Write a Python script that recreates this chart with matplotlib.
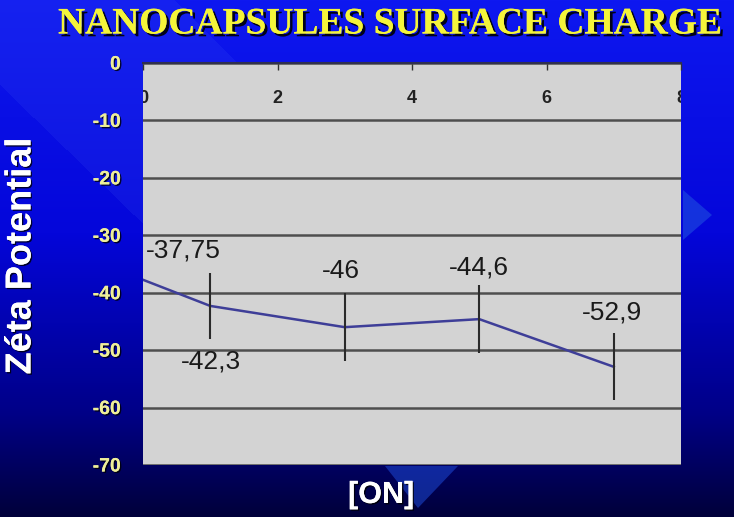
import numpy as np
import matplotlib
matplotlib.use("Agg")
import matplotlib.pyplot as plt
import matplotlib.patheffects as pe
from matplotlib.patches import Polygon

plt.rcParams["axes.unicode_minus"] = False

# data
conc = [0, 1, 3, 5, 7]
zeta = [-37.75, -42.3, -46, -44.6, -52.9]
zeta_err = [0, 5.7, 5.9, 5.9, 5.8]
point_labels = ["-37,75", "-42,3", "-46", "-44,6", "-52,9"]
label_offsets = [(40, 29), (1, -56), (-4, 56), (0, 52), (-2, 54)]  # pixels
x_ticks = [0, 2, 4, 6, 8]
y_ticks = [0, -10, -20, -30, -40, -50, -60, -70]

W, H = 734, 517
fig = plt.figure(figsize=(W / 100, H / 100), dpi=100)

# slide background: blue vertical gradient with a lighter diagonal band
bg = fig.add_axes([0, 0, 1, 1], zorder=-10)
yy, xx = np.mgrid[0:H, 0:W]
t = yy / (H - 1)
stops_t = [0.0, 0.45, 0.8, 1.0]
stops_c = np.array([[14, 24, 240], [4, 6, 218], [0, 0, 135], [0, 0, 58]]) / 255
img = np.zeros((H, W, 3))
for k in range(3):
    img[..., k] = np.interp(t, stops_t, stops_c[:, k])
band = (yy < 85 + 0.97 * xx) & (yy > xx - 175) & (yy < 250)
img[band] = img[band] * 0.85 + np.array([0.25, 0.35, 0.95]) * 0.15
bg.imshow(img, extent=[0, W, H, 0], aspect="auto")
bg.add_patch(Polygon([[683, 190], [712, 215], [683, 240]], closed=True,
                     color="#1f4fe0", alpha=0.6, lw=0))
bg.add_patch(Polygon([[385, 466], [458, 466], [418, 508]], closed=True,
                     color="#1f4fe0", alpha=0.5, lw=0))
bg.set_xlim(0, W)
bg.set_ylim(H, 0)
bg.axis("off")

ax = fig.add_axes([143 / W, 1 - 465 / H, 538 / W, 402 / H])
ax.set_facecolor("#d3d3d3")
ax.set_xlim(0, 8)
ax.set_ylim(-70, 0)

ax.plot(conc, zeta, color="#3e3e98", lw=1.8, zorder=3)
ax.errorbar(conc[1:], zeta[1:], yerr=zeta_err[1:], fmt="none",
            ecolor="#2a2a2a", elinewidth=1.5, capsize=0, zorder=4)

for xv, yv, lab, off in zip(conc, zeta, point_labels, label_offsets):
    ax.annotate(lab, (xv, yv), xytext=off, textcoords="offset pixels",
                ha="center", va="center", fontsize=19, color="#1a1a1a",
                family="Liberation Sans", zorder=5)

ax.set_yticks(y_ticks)
ax.set_xticks(x_ticks)
ax.grid(axis="y", color="#4e4e4e", lw=1.8)
ax.set_axisbelow(True)
for side in ["left", "right", "bottom"]:
    ax.spines[side].set_visible(False)
ax.spines["top"].set_color("#303050")
ax.spines["top"].set_linewidth(1.5)

ax.xaxis.set_ticks_position("top")
ax.xaxis.set_label_position("bottom")
ax.tick_params(axis="x", direction="in", length=5, width=1, color="#333333",
               pad=-32, labelsize=13, labelcolor="#222222")
for lab in ax.get_xticklabels():
    lab.set_fontweight("bold")
    lab.set_family("Liberation Sans")
    lab.set_clip_box(ax.bbox)
    lab.set_clip_on(True)

ax.tick_params(axis="y", length=0, pad=16, labelsize=14, labelcolor="#eeee99")
shadow = [pe.withSimplePatchShadow(offset=(1, -1), shadow_rgbFace="black", alpha=0.8), pe.Normal()]
for lab in ax.get_yticklabels():
    lab.set_fontweight("bold")
    lab.set_family(["Liberation Sans Narrow", "Liberation Sans"])
    lab.set_path_effects(shadow)

fig.text(390 / W, 1 - 24 / H, "NANOCAPSULES SURFACE CHARGE", ha="center", va="center",
         fontsize=27, fontweight="bold", family="Liberation Serif", color="#f4f43a",
         path_effects=[pe.withSimplePatchShadow(offset=(2, -2), shadow_rgbFace="black", alpha=0.9),
                       pe.Normal()])
fig.text(21 / W, 1 - 256 / H, "Zéta Potential", rotation=90, ha="center", va="center",
         fontsize=26, fontweight="bold", family="Liberation Sans", color="white",
         path_effects=shadow)
fig.text(381 / W, 1 - 495 / H, "[ON]", ha="center", va="center",
         fontsize=22, fontweight="bold", family="Liberation Sans", color="white",
         path_effects=shadow)

fig.savefig("out.png", dpi=100)
